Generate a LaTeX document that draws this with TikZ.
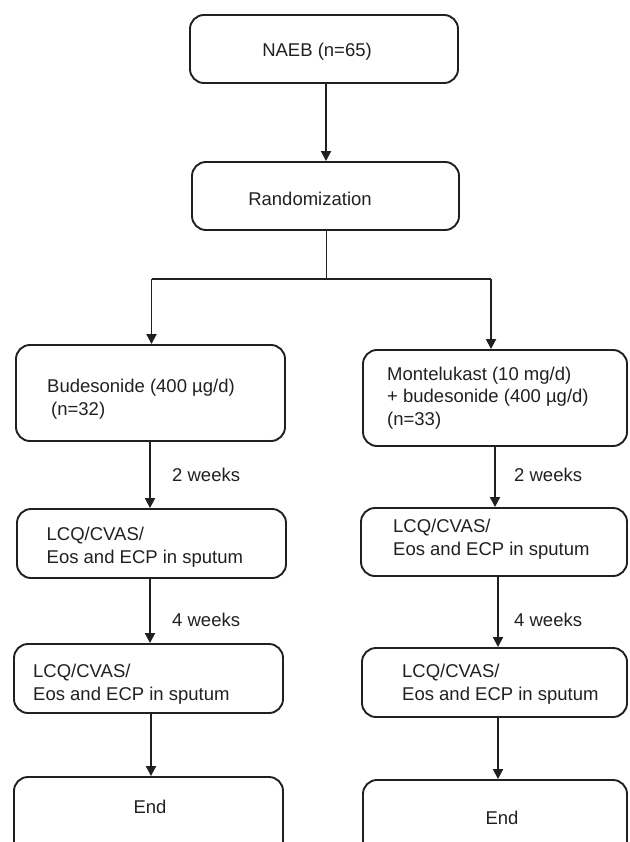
\documentclass[tikz,border=0pt]{standalone}
\usepackage{fontspec}
\setmainfont{Liberation Sans}
\usetikzlibrary{arrows.meta}
\definecolor{ink}{HTML}{231F20}
\begin{document}
\begin{tikzpicture}[x=1pt,y=-1pt,
  box/.style={draw=ink, line width=1.9pt, rounded corners=14pt, inner sep=0pt},
  txt/.style={inner sep=0pt, anchor=west, align=left, text=ink,
    font=\fontsize{18.5}{22.5}\selectfont},
  ctxt/.style={inner sep=0pt, text=ink, font=\fontsize{18.5}{22.5}\selectfont},
  arr/.style={draw=ink, line width=1.9pt, -{Triangle[length=10pt,width=10pt]}},
  ln/.style={draw=ink, line width=1.9pt}]
\useasboundingbox (0,0) rectangle (629,842);
\clip (0,0) rectangle (629,842);
% boxes
\node[box, minimum width=268, minimum height=68] (naeb) at (324,49) {};
\node[box, minimum width=267, minimum height=68] (rand) at (325.5,196) {};
\node[box, minimum width=269, minimum height=96] (bud) at (150.5,393) {};
\node[box, minimum width=264, minimum height=96] (mont) at (495,398) {};
\node[box, minimum width=269, minimum height=69] (l1) at (151.5,543.5) {};
\node[box, minimum width=266, minimum height=68] (r1) at (494,542) {};
\node[box, minimum width=269, minimum height=69] (l2) at (148.5,678.5) {};
\node[box, minimum width=265, minimum height=69] (r2) at (494.5,682.5) {};
\node[box, minimum width=269, minimum height=100] (lend) at (148.5,827) {};
\node[box, minimum width=264, minimum height=100] (rend) at (495,830) {};
% texts
\node[ctxt] (tnaeb) at (317,52) {NAEB (n=65)};
\node[ctxt] (trand) at (310,199) {Randomization};
\node[txt] (tbud) at (47,399) {Budesonide (400 µg/d)\\\hspace{4pt}(n=32)};
\node[txt] (tmont) at (387,398) {Montelukast (10 mg/d)\\+ budesonide (400 µg/d)\\(n=33)};
\node[txt] (tl1) at (46.5,547) {LCQ/CVAS/\\Eos and ECP in sputum};
\node[txt] (tr1) at (393,539) {LCQ/CVAS/\\Eos and ECP in sputum};
\node[txt] (tl2) at (33,684) {LCQ/CVAS/\\Eos and ECP in sputum};
\node[txt] (tr2) at (402,684) {LCQ/CVAS/\\Eos and ECP in sputum};
\node[ctxt] (tlend) at (150,807) {End};
\node[ctxt] (trend) at (502,818) {End};
\node[txt] (w2l) at (172,475) {2 weeks};
\node[txt] (w2r) at (514,475) {2 weeks};
\node[txt] (w4l) at (172,620) {4 weeks};
\node[txt] (w4r) at (514,620) {4 weeks};
% connector coordinates
\coordinate (c0) at (326,0);
\coordinate (split) at (326.5,279);
\coordinate (sl) at (151.5,279);
\coordinate (sr) at (491,279);
\coordinate (cl) at (150,0);
\coordinate (cl2) at (151,0);
\coordinate (cr1) at (495,0);
\coordinate (cr2) at (498,0);
% connectors
\draw[arr] (naeb.south -| c0) -- (rand.north -| c0);
\draw[ln] (rand.south -| split) -- (split);
\draw[ln] (sl) -- (sr);
\draw[arr] (sl) -- (sl |- bud.north);
\draw[arr] (sr) -- (sr |- mont.north);
\draw[arr] (bud.south -| cl) -- (l1.north -| cl);
\draw[arr] (l1.south -| cl) -- (l2.north -| cl);
\draw[arr] (l2.south -| cl2) -- (lend.north -| cl2);
\draw[arr] (mont.south -| cr1) -- (r1.north -| cr1);
\draw[arr] (r1.south -| cr2) -- (r2.north -| cr2);
\draw[arr] (r2.south -| cr2) -- (rend.north -| cr2);
\end{tikzpicture}
\end{document}
